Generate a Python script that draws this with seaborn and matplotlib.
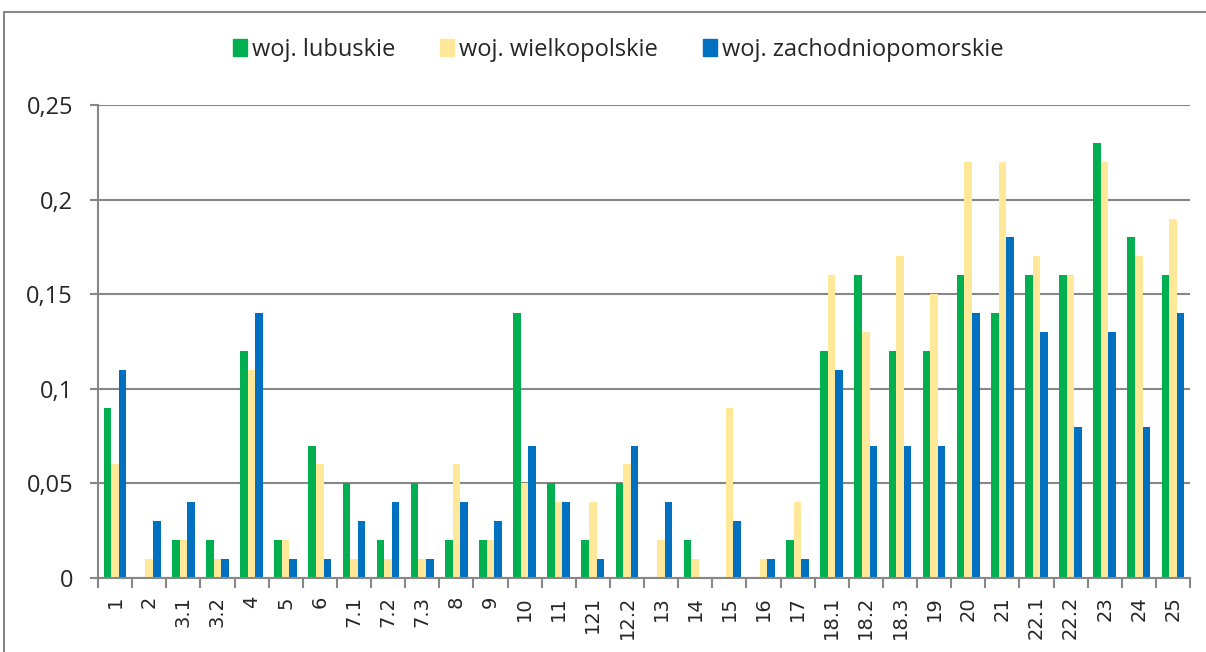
import matplotlib
matplotlib.use('Agg')
import matplotlib.pyplot as plt
import matplotlib.patches as mpatches
import matplotlib.lines as mlines
from matplotlib.ticker import FuncFormatter, MultipleLocator, FixedLocator
import seaborn as sns
import pandas as pd

categories = ['1', '2', '3.1', '3.2', '4', '5', '6', '7.1', '7.2', '7.3', '8', '9', '10', '11',
              '121', '12.2', '13', '14', '15', '16', '17', '18.1', '18.2', '18.3', '19', '20',
              '21', '22.1', '22.2', '23', '24', '25']
lubuskie = [0.09, 0, 0.02, 0.02, 0.12, 0.02, 0.07, 0.05, 0.02, 0.05, 0.02, 0.02, 0.14, 0.05,
            0.02, 0.05, 0, 0.02, 0, 0, 0.02, 0.12, 0.16, 0.12, 0.12, 0.16,
            0.14, 0.16, 0.16, 0.23, 0.18, 0.16]
wielkopolskie = [0.06, 0.01, 0.02, 0.01, 0.11, 0.02, 0.06, 0.01, 0.01, 0.01, 0.06, 0.02, 0.05, 0.04,
                 0.04, 0.06, 0.02, 0.01, 0.09, 0.01, 0.04, 0.16, 0.13, 0.17, 0.15, 0.22,
                 0.22, 0.17, 0.16, 0.22, 0.17, 0.19]
zachodniopomorskie = [0.11, 0.03, 0.04, 0.01, 0.14, 0.01, 0.01, 0.03, 0.04, 0.01, 0.04, 0.03, 0.07, 0.04,
                      0.01, 0.07, 0.04, 0, 0.03, 0.01, 0.01, 0.11, 0.07, 0.07, 0.07, 0.14,
                      0.18, 0.13, 0.08, 0.13, 0.08, 0.14]
series = ['woj. lubuskie', 'woj. wielkopolskie', 'woj. zachodniopomorskie']
colors = ['#00B050', '#FFE999', '#0070C0']

df = pd.DataFrame({
    'kat': categories * 3,
    'wart': lubuskie + wielkopolskie + zachodniopomorskie,
    'woj': [s for s in series for _ in categories],
})

sns.set_style('white')
plt.rcParams['font.family'] = ['Open Sans', 'DejaVu Sans']

grey = '#878787'
fig = plt.figure(figsize=(12.06, 6.52), dpi=100)
ax = fig.add_axes([98 / 1206, 1 - 578 / 652, 1092 / 1206, 473 / 652])

sns.barplot(data=df, x='kat', y='wart', hue='woj', order=categories, hue_order=series,
            palette=colors, width=0.67, saturation=1, linewidth=0, ax=ax, legend=False)

ax.set_xlim(-0.5, len(categories) - 0.5)
ax.set_ylim(0, 0.25)
ax.yaxis.set_major_locator(MultipleLocator(0.05))
ax.yaxis.set_major_formatter(FuncFormatter(lambda v, p: '{:g}'.format(round(v, 2)).replace('.', ',')))
ax.grid(axis='y', color=grey, linewidth=1.5)
ax.set_axisbelow(True)
ax.set_xlabel('')
ax.set_ylabel('')

for s in ['top', 'right']:
    ax.spines[s].set_visible(False)
for s in ['left', 'bottom']:
    ax.spines[s].set_color(grey)
    ax.spines[s].set_linewidth(1.5)

ax.tick_params(axis='y', left=True, length=6, width=1.5, color=grey, labelsize=17, pad=12)
ax.tick_params(axis='x', which='major', length=0, labelsize=14, pad=13, labelrotation=90)
ax.xaxis.set_minor_locator(FixedLocator([i - 0.5 for i in range(len(categories) + 1)]))
ax.tick_params(axis='x', which='minor', bottom=True, length=7, color=grey, width=1.5)
for lab in ax.get_xticklabels():
    lab.set_family('DejaVu Sans')
    lab.set_va('top')

handles = [mpatches.Patch(color=c, label=s) for c, s in zip(colors, series)]
fig.legend(handles=handles, loc='center', bbox_to_anchor=(618 / 1206, 1 - 50 / 652), ncol=3,
           frameon=False, fontsize=17, handlelength=0.6, handleheight=0.7,
           handletextpad=0.2, columnspacing=1.9)

# ramka wykresu (lewa i górna krawędź)
fig.add_artist(mlines.Line2D([4 / 1206, 4 / 1206, 1], [0, 1 - 12 / 652, 1 - 12 / 652],
                             transform=fig.transFigure, color=grey, linewidth=1.5))

fig.savefig('out.png', dpi=100)
